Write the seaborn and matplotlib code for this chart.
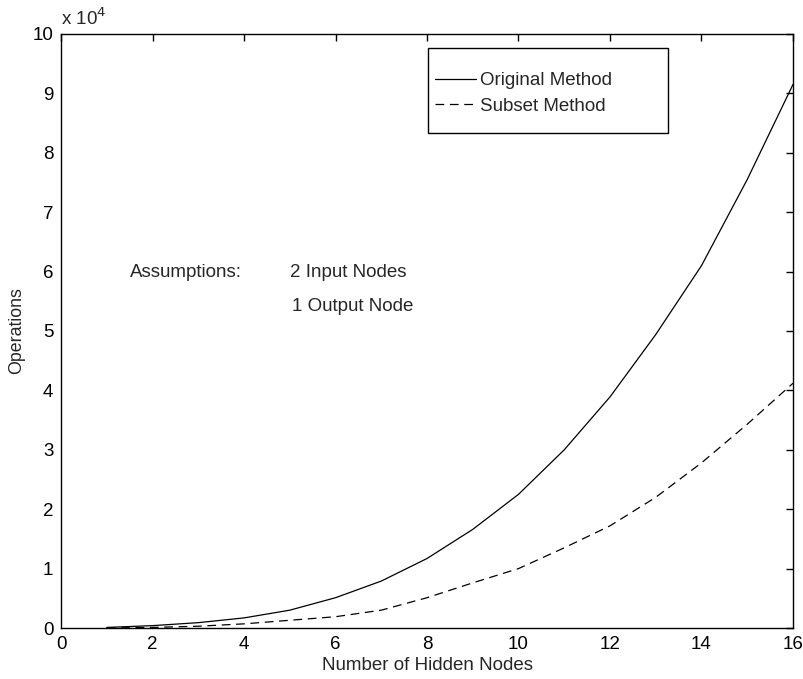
import matplotlib
matplotlib.use("Agg")
import matplotlib.pyplot as plt
import seaborn as sns
import pandas as pd
from matplotlib.ticker import FuncFormatter, MultipleLocator
from matplotlib.patches import Rectangle

hidden_nodes = list(range(1, 17))
original_ops = [100, 400, 900, 1700, 3000, 5100, 7900, 11700, 16600, 22500, 30000, 38900, 49400, 61000, 75500, 91500]
subset_ops = [0, 100, 300, 700, 1300, 1900, 3000, 5100, 7600, 10000, 13500, 17200, 22000, 27800, 34300, 41200]
series_names = ["Original Method", "Subset Method"]

df = pd.concat([
    pd.DataFrame({"x": hidden_nodes, "y": original_ops, "Method": series_names[0]}),
    pd.DataFrame({"x": hidden_nodes, "y": subset_ops, "Method": series_names[1]}),
])

sns.set_theme(style="white")
plt.rcParams["font.family"] = ["Liberation Sans", "DejaVu Sans"]

FS = 13.5

fig = plt.figure(figsize=(8.04, 6.79), dpi=100)
ax = fig.add_axes([0.0759, 0.0751, 0.9104, 0.8749])

sns.lineplot(data=df, x="x", y="y", style="Method", color="black", linewidth=0.9,
             dashes={series_names[0]: "", series_names[1]: (7, 4.5)}, ax=ax, legend=True)

ax.set_xlim(0, 16)
ax.set_ylim(0, 100000)
ax.xaxis.set_major_locator(MultipleLocator(2))
ax.yaxis.set_major_locator(MultipleLocator(10000))
ax.yaxis.set_major_formatter(FuncFormatter(lambda v, p: f"{v/1e4:.0f}"))
ax.tick_params(direction="in", length=5, width=1, top=True, right=True,
               labelsize=FS, colors="black", pad=5.5)
for s in ax.spines.values():
    s.set_color("black")
    s.set_linewidth(1.0)

ax.set_xlabel("Number of Hidden Nodes", fontsize=FS, labelpad=3)
ax.set_ylabel("Operations", fontsize=12.8, labelpad=5)

ax.text(0.0, 1.008, "x 10$^4$", transform=ax.transAxes, fontsize=FS, ha="left", va="bottom")

ax.text(1.5, 59800, "Assumptions:", fontsize=FS, va="center")
ax.text(5.0, 59800, "2 Input Nodes", fontsize=FS, va="center")
ax.text(5.05, 54200, "1 Output Node", fontsize=FS, va="center")

handles = ax.get_legend().legend_handles
ax.get_legend().remove()
leg = ax.legend(handles=handles, labels=series_names, loc="upper left",
                bbox_to_anchor=(0.511, 0.936), fontsize=FS, frameon=False,
                handlelength=2.2, borderpad=0, labelspacing=0.46, handletextpad=0.2,
                borderaxespad=0)
ax.add_patch(Rectangle((0.5014, 0.8333), 0.8292 - 0.5014, 0.9764 - 0.8333,
                       transform=ax.transAxes, fill=False, edgecolor="black",
                       linewidth=1.0, zorder=5))

fig.savefig("out.png", dpi=100)
